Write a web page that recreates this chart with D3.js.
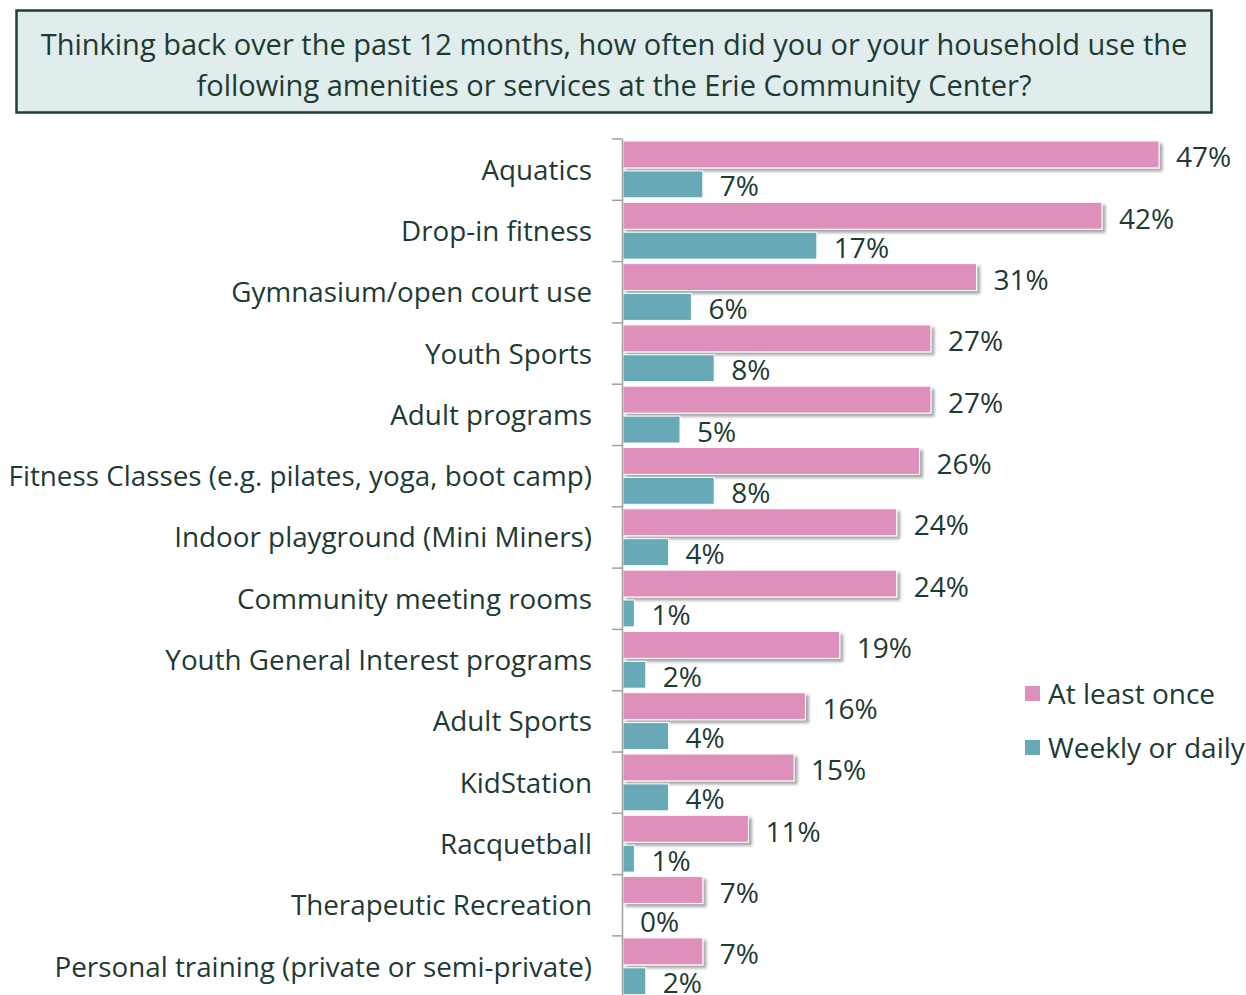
<!DOCTYPE html>
<html><head><meta charset="utf-8">
<script src="https://cdn.jsdelivr.net/npm/d3@7"></script>
<style>
html,body{margin:0;padding:0;background:#fff;}
svg{display:block;}
</style></head>
<body>
<svg id="chart" width="1246" height="995"></svg>
<script>
const titleLines = ["Thinking back over the past 12 months, how often did you or your household use the",
  "following amenities or services at the Erie Community Center?"];
const categories = ["Aquatics","Drop-in fitness","Gymnasium/open court use","Youth Sports","Adult programs",
  "Fitness Classes (e.g. pilates, yoga, boot camp)","Indoor playground (Mini Miners)","Community meeting rooms",
  "Youth General Interest programs","Adult Sports","KidStation","Racquetball","Therapeutic Recreation",
  "Personal training (private or semi-private)"];
const atLeastOnce = [47,42,31,27,27,26,24,24,19,16,15,11,7,7];
const weeklyOrDaily = [7,17,6,8,5,8,4,1,2,4,4,1,0,2];
const seriesNames = ["At least once","Weekly or daily"];

const FONT = "'Open Sans', 'Noto Sans', sans-serif";
const TXT = "#1d3a33";
const colors = ["#de90bb","#68a9b8"];

const svg = d3.select("#chart");
const defs = svg.append("defs");
const f = defs.append("filter").attr("id","shadow").attr("x","-5%").attr("y","-30%").attr("width","115%").attr("height","180%");
f.append("feDropShadow").attr("dx",3).attr("dy",3).attr("stdDeviation",1.8).attr("flood-color","#000").attr("flood-opacity",0.35);

// Title box
svg.append("rect").attr("x",16.5).attr("y",10.5).attr("width",1195).attr("height",102)
  .attr("fill","#e1ecec").attr("stroke","#1f3f35").attr("stroke-width",2.5);
svg.append("g").selectAll("text").data(titleLines).join("text")
  .attr("x",614).attr("y",(d,i)=>43+i*41).attr("text-anchor","middle").attr("dominant-baseline","central")
  .attr("font-family",FONT).attr("font-size",29).attr("fill",TXT).text(d=>d);

const x = d3.scaleLinear().domain([0,47]).range([623,1159]);
const y = d3.scaleBand().domain(categories).range([139,139+14*61.3]).paddingInner(0).paddingOuter(0);
const inner = d3.scaleBand().domain([0,1]).range([2,y.bandwidth()-2.5]).paddingInner(0.1);

const rows = categories.map((c,i)=>({c, v:[atLeastOnce[i], weeklyOrDaily[i]]}));

// pink bars
svg.append("g").selectAll("rect").data(rows).join("rect")
  .attr("x",x(0)).attr("y",d=>y(d.c)+inner(0)).attr("width",d=>x(d.v[0])-x(0)).attr("height",inner.bandwidth())
  .attr("fill",colors[0]).attr("stroke","#fff").attr("stroke-width",1).attr("filter","url(#shadow)");
// teal bars
svg.append("g").selectAll("rect").data(rows).join("rect")
  .attr("x",x(0)).attr("y",d=>y(d.c)+inner(1)).attr("width",d=>x(d.v[1])-x(0)).attr("height",inner.bandwidth())
  .attr("fill",colors[1]).attr("stroke","#fff").attr("stroke-width",1);

// value labels
[0,1].forEach(s=>{
  svg.append("g").selectAll("text").data(rows).join("text")
    .attr("x",d=>x(d.v[s])+17).attr("y",d=>y(d.c)+inner(s)+inner.bandwidth()/2+(s?1:2))
    .attr("dominant-baseline","central")
    .attr("font-family",FONT).attr("font-size",28).attr("fill",TXT).text(d=>d.v[s]+"%");
});

// axis
const ax = svg.append("g").attr("stroke","#a0a0a0").attr("stroke-width",1.5);
ax.append("line").attr("x1",622.5).attr("x2",622.5).attr("y1",y.range()[0]).attr("y2",y.range()[1]);
ax.selectAll("line.t").data(categories.map(c=>y(c)).concat([y.range()[1]])).join("line").attr("class","t")
  .attr("x1",612).attr("x2",622.5).attr("y1",d=>d).attr("y2",d=>d);

// category labels
svg.append("g").selectAll("text").data(categories).join("text")
  .attr("x",592).attr("y",c=>y(c)+y.bandwidth()/2-1).attr("text-anchor","end").attr("dominant-baseline","central")
  .attr("font-family",FONT).attr("font-size",27.8).attr("fill",TXT).text(d=>d);

// legend
const lg = svg.append("g").selectAll("g").data(seriesNames).join("g")
  .attr("transform",(d,i)=>`translate(1025,${686+i*54})`);
lg.append("rect").attr("width",15).attr("height",15).attr("fill",(d,i)=>colors[i]);
lg.append("text").attr("x",23).attr("y",7).attr("dominant-baseline","central")
  .attr("font-family",FONT).attr("font-size",28).attr("fill",TXT).text(d=>d);
</script>
</body></html>
